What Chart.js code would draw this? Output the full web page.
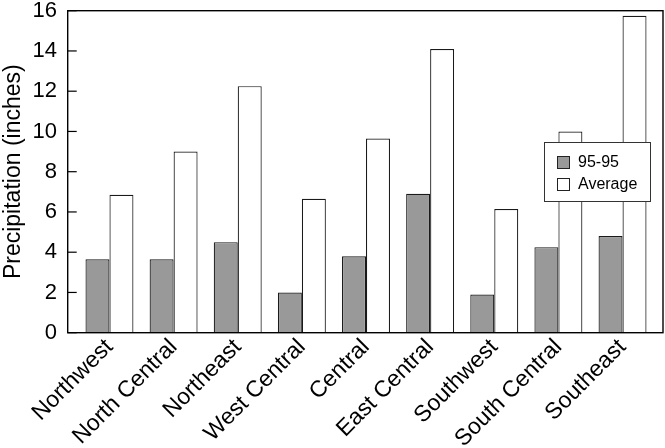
<!DOCTYPE html>
<html>
<head>
<meta charset="utf-8">
<script src="https://cdn.jsdelivr.net/npm/chart.js@4/dist/chart.umd.min.js"></script>
<style>
  html, body { margin: 0; padding: 0; background: #fff; }
  #wrap { width: 665px; height: 448px; position: relative; }
</style>
</head>
<body>
<div id="wrap"><canvas id="c" width="665" height="448"></canvas></div>
<script>
const categories = ['Northwest', 'North Central', 'Northeast', 'West Central', 'Central', 'East Central', 'Southwest', 'South Central', 'Southeast'];
const series9595 = [3.65, 3.65, 4.5, 2.0, 3.8, 6.9, 1.9, 4.25, 4.8];
const seriesAverage = [6.85, 9.0, 12.25, 6.65, 9.65, 14.1, 6.15, 10.0, 15.75];
const seriesLabels = ['95-95', 'Average'];
const yMin = 0, yMax = 16, yStep = 2;
const yTitle = 'Precipitation (inches)';

const FONT = "'Liberation Sans', Arial, Helvetica, sans-serif";

const framePlugin = {
  id: 'frame',
  afterDatasetsDraw(chart) {
    const ctx = chart.ctx;
    const ca = chart.chartArea;
    const y = chart.scales.y;
    const left = ca.left - 9.7, right = ca.right + 8.4;
    ctx.save();
    ctx.strokeStyle = '#000';
    ctx.lineWidth = 1.4;
    ctx.strokeRect(left, ca.top, right - left, ca.bottom - ca.top);
    ctx.lineWidth = 1.2;
    y.ticks.forEach(t => {
      const py = y.getPixelForValue(t.value);
      ctx.beginPath();
      ctx.moveTo(left, py);
      ctx.lineTo(left + 9, py);
      ctx.stroke();
    });
    // legend box
    const bx = 544, by = 142, bw = 106, bh = 59;
    ctx.fillStyle = '#fff';
    ctx.fillRect(bx, by, bw, bh);
    ctx.strokeStyle = '#333';
    ctx.lineWidth = 1;
    ctx.strokeRect(bx + 0.5, by + 0.5, bw, bh);
    ctx.font = '16px ' + FONT;
    ctx.textBaseline = 'middle';
    ctx.textAlign = 'left';
    chart.data.datasets.forEach((ds, i) => {
      const cy = 162 + i * 22;
      ctx.fillStyle = ds.backgroundColor;
      ctx.fillRect(557, cy - 6, 12, 12);
      ctx.strokeStyle = '#222';
      ctx.strokeRect(557.5, cy - 5.5, 12, 12);
      ctx.fillStyle = '#000';
      ctx.fillText(ds.label, 578, cy + 1);
    });
    ctx.restore();
  }
};

new Chart(document.getElementById('c'), {
  type: 'bar',
  data: {
    labels: categories,
    datasets: [
      { label: seriesLabels[0], data: series9595, backgroundColor: '#999999', borderColor: '#1a1a1a', borderWidth: 1.2, categoryPercentage: 0.748, barPercentage: 1.0 },
      { label: seriesLabels[1], data: seriesAverage, backgroundColor: '#ffffff', borderColor: '#1a1a1a', borderWidth: 1.2, categoryPercentage: 0.748, barPercentage: 1.0 }
    ]
  },
  options: {
    responsive: false,
    animation: false,
    devicePixelRatio: 1,
    layout: { padding: { left: 0, right: 10.4, top: 10.7, bottom: 0 } },
    plugins: { legend: { display: false }, tooltip: { enabled: false } },
    scales: {
      x: {
        offset: true,
        grid: { display: false, drawTicks: false },
        border: { display: false },
        ticks: {
          color: '#000', font: { family: FONT, size: 23 },
          maxRotation: 45, minRotation: 45, autoSkip: false, padding: 1
        },
        afterFit(scale) { scale.height = 448 - 332.7; scale.paddingLeft = 0; scale.paddingRight = 0; }
      },
      y: {
        min: yMin, max: yMax,
        grid: { display: false, drawTicks: false },
        border: { display: false },
        ticks: { stepSize: yStep, color: '#000', font: { family: FONT, size: 22, lineHeight: 0.9 }, padding: 20.4 },
        title: { display: true, text: yTitle, color: '#000', font: { family: FONT, size: 23 }, padding: 0 },
        afterFit(scale) { scale.width = 77.4; scale.paddingTop = 0; scale.paddingBottom = 0; }
      }
    }
  },
  plugins: [framePlugin]
});
</script>
</body>
</html>
